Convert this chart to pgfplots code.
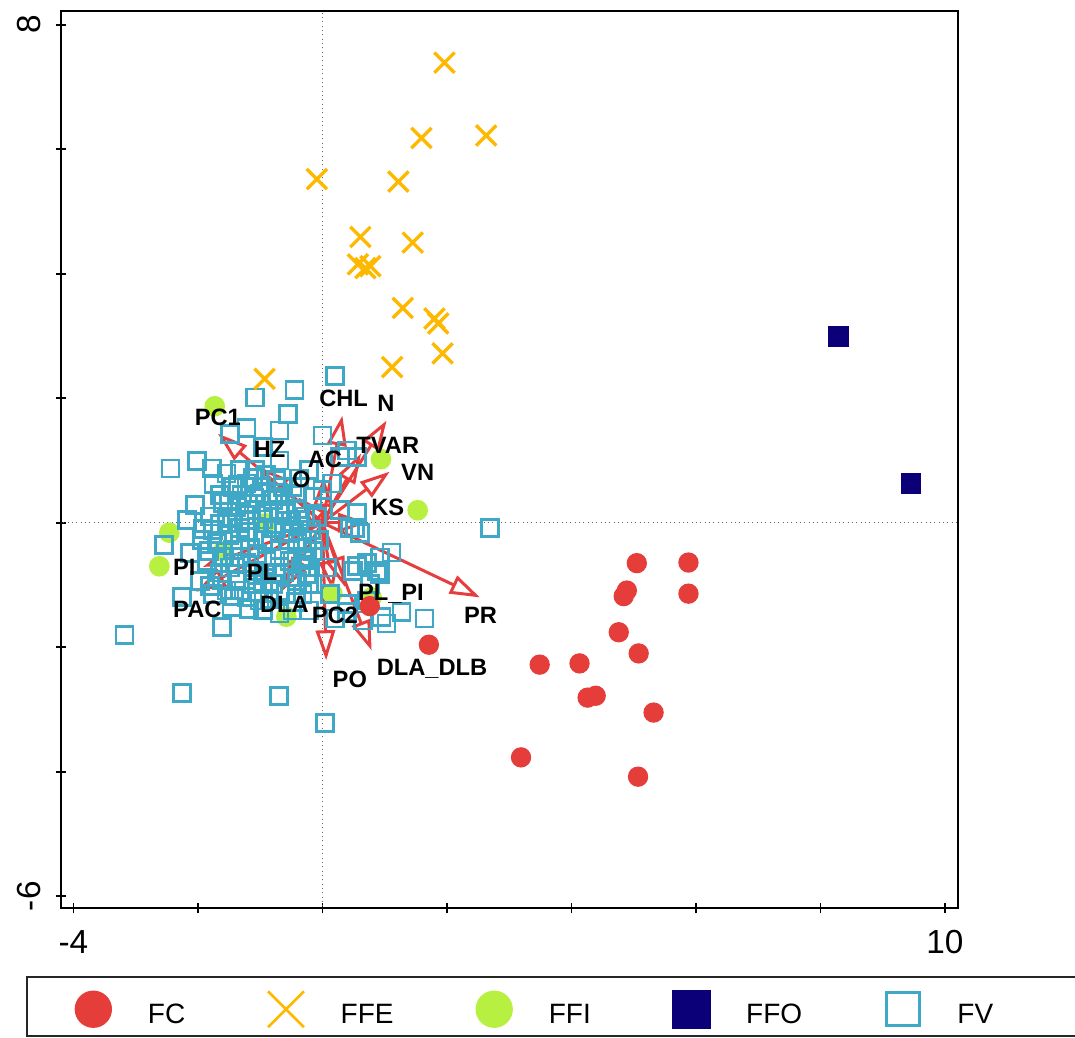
\documentclass[border=0pt]{standalone}
\usepackage{fontspec}
\setmainfont{Liberation Sans}
\usepackage{pgfplots}
\pgfplotsset{compat=1.18}
\usetikzlibrary{arrows.meta}
\definecolor{cFC}{RGB}{229,62,58}
\definecolor{cFFE}{RGB}{255,184,0}
\definecolor{cFFI}{RGB}{184,240,66}
\definecolor{cFFO}{RGB}{12,0,120}
\definecolor{cFV}{RGB}{62,168,198}
\definecolor{cArr}{RGB}{230,62,62}

\begin{document}
\begin{tikzpicture}
\begin{axis}[
  scale only axis, width=269.1pt, height=269.1pt,
  xmin=-4.2, xmax=10.21, ymin=-6.19, ymax=8.22,
  axis line style={black, line width=0.5pt},
  tick pos=left, tick align=center, major tick length=3.2pt,
  tick style={black, line width=0.5pt},
  xtick={-4,-2,...,10}, xticklabels={-4,,,,,,,10},
  ytick={-6,-4,...,8}, yticklabels={-6,,,,,,,8},
  ticklabel style={font=\fontsize{10}{12}\selectfont, inner sep=0pt},
  xticklabel style={anchor=north},
  yticklabel style={rotate=90, anchor=south},
  xticklabel shift=5pt, yticklabel shift=4.3pt,
  legend columns=5, legend cell align=left,
  legend image code/.code={\path (-6pt,-3pt) (6pt,9pt); \draw[#1] plot coordinates {(0pt,2pt)};},
  legend style={at={(axis description cs:0,0)}, anchor=west, xshift=3.5pt, yshift=-29.6pt,
    draw=none, fill=none, inner sep=0pt, outer sep=0pt,
    font=\fontsize{8.4}{10}\selectfont, nodes={inner sep=0pt},
    /tikz/every odd column/.append style={column sep=10.2pt},
    /tikz/every even column/.append style={column sep=24pt}},
]
\coordinate (SW) at (rel axis cs:0,0);
\coordinate (NE) at (rel axis cs:1,1);

% zero reference lines
\addplot[forget plot, densely dotted, black!60, line width=0.3pt] coordinates {(0,-7) (0,9)};
\addplot[forget plot, densely dotted, black!60, line width=0.3pt] coordinates {(-5,0) (11,0)};

% FFI
\addplot[forget plot, only marks, mark=*, mark size=2.9pt, mark options={draw=cFFI, fill=cFFI}] table {
x y
-1.73 1.87
0.94 1.02
1.53 0.20
-2.46 -0.16
-2.62 -0.70
-1.60 -0.46
-0.91 -0.01
-0.58 -1.51
0.16 -1.14
0.79 -1.20
};

% FV
\addplot[forget plot, only marks, mark=square, mark size=2.55pt, mark options={draw=cFV, line width=0.85pt}] table {
x y
0.20 2.35
-0.45 2.13
-1.09 2.01
-0.56 1.74
-1.22 1.52
-0.69 1.48
-1.49 1.43
0.00 1.40
0.40 1.16
0.55 1.05
-2.44 0.87
-2.02 0.99
-1.78 0.87
-2.05 0.29
-2.54 -0.36
-3.18 -1.81
-2.26 -1.20
-1.62 -1.68
-2.26 -2.74
-0.70 -2.78
0.04 -3.22
1.64 -1.54
1.27 -1.44
0.95 -1.52
2.69 -0.08
1.11 -0.48
0.92 -0.56
0.55 -0.69
0.87 -0.77
0.71 -1.25
0.52 -0.08
0.28 1.05
0.16 0.63
0.00 0.52
-0.41 0.47
0.28 0.20
0.55 0.15
-0.74 -0.08
-0.53 -0.17
-0.32 -0.40
-0.69 -0.56
-0.48 -0.61
0.44 -0.08
0.60 -0.17
0.49 -0.77
0.71 -0.65
0.92 -0.82
0.76 -0.98
-0.25 -0.82
-0.74 -0.82
-0.16 -0.98
0.12 -1.14
0.39 -1.30
-0.69 -1.46
-0.48 -1.41
-0.21 -1.41
1.03 -1.62
0.65 -1.57
-1.46 -1.36
0.20 -1.54
0.39 -1.44
-1.76 -1.14
-1.33 -1.09
-1.44 0.57
-1.22 0.63
-1.01 0.47
-0.80 0.36
-0.64 0.57
-1.38 0.25
-1.60 0.31
-1.06 0.20
-0.58 0.15
-0.37 0.04
-0.16 0.41
-0.09 0.09
-1.76 -0.12
-1.54 -0.01
-1.33 -0.08
-1.17 0.04
-0.80 -0.08
-0.53 -0.28
-0.25 -0.28
-1.93 -0.28
-1.70 -0.33
-1.44 -0.44
-1.17 -0.40
-0.96 -0.28
-0.69 -0.44
-1.86 -0.61
-1.49 -0.72
-1.22 -0.65
-0.90 -0.61
-0.53 -0.61
-0.25 -0.56
-1.38 -0.93
-1.12 -0.98
-0.80 -0.98
-0.41 -0.93
-0.21 -0.98
-1.54 -1.09
-1.22 -1.20
-0.58 -1.14
-0.32 -1.14
-1.97 -0.93
-2.13 -0.49
0.07 -0.72
-1.54 0.79
-1.33 0.84
-0.96 1.21
-0.69 1.00
-2.18 0.04
-0.91 0.76
-0.37 0.71
-1.09 0.84
-0.21 0.84
-0.05 -0.28
-1.01 -1.25
-1.80 0.10
-1.65 0.45
-1.50 0.35
-1.35 0.60
-1.20 0.30
-1.12 0.72
-0.98 0.58
-0.88 0.15
-0.72 0.48
-0.60 0.30
-0.48 0.58
-0.40 0.22
-0.28 0.10
-0.50 0.02
-0.96 0.05
-1.25 0.12
-1.45 0.10
-1.65 -0.02
-1.82 -0.45
-1.62 -0.55
-1.32 -0.28
-1.05 -0.50
-0.82 -0.30
-0.62 -0.15
-0.40 -0.32
-0.15 -0.45
-0.35 -0.72
-0.62 -0.80
-0.92 -0.80
-1.10 -0.78
-1.30 -0.55
-1.65 -0.80
-1.80 -1.02
-1.42 -1.18
-1.05 -1.12
-0.85 -1.22
-0.68 -1.10
-0.42 -1.28
-1.18 -1.38
-0.95 -1.40
-1.62 -0.92
-0.18 -0.12
-0.75 0.68
-1.30 0.45
-1.75 0.62
-1.92 -0.10
-1.50 -0.20
-1.10 0.40
-0.70 0.20
-1.40 -0.65
-0.95 -0.95
-0.30 -0.60
-1.20 -0.15
};

% FC
\addplot[forget plot, only marks, mark=*, mark size=2.85pt, mark options={draw=cFC, fill=cFC}] table {
x y
5.05 -0.65
5.88 -0.64
5.88 -1.14
4.89 -1.09
4.84 -1.18
4.76 -1.76
5.08 -2.10
4.13 -2.26
3.49 -2.28
4.26 -2.81
4.39 -2.78
5.32 -3.05
3.19 -3.77
5.07 -4.08
1.71 -1.96
0.76 -1.34
};

% FFE
\addplot[forget plot, only marks, mark=x, mark size=4.3pt, mark options={draw=cFFE, line width=1pt}] table {
x y
1.96 7.39
1.59 6.18
2.63 6.22
-0.09 5.52
1.22 5.48
0.61 4.59
1.45 4.50
0.57 4.15
0.69 4.09
0.77 4.12
1.29 3.45
1.80 3.28
1.86 3.20
1.93 2.72
1.12 2.50
-0.93 2.31
};

% FFO
\addplot[forget plot, only marks, mark=square*, mark size=2.85pt, mark options={draw=cFFO, fill=cFFO}] table {
x y
8.29 2.99
9.45 0.63
};

% variable vectors
\addplot[forget plot, cArr, line width=0.9pt, quiver={u=\thisrow{u}, v=\thisrow{v}},
  -{Triangle[open, length=9pt, width=5.8pt]}] table {
x y u v
0 0 0.32 1.72
0 0 1.03 1.64
0 0 0.62 1.11
0 0 0.02 0.74
0 0 1.08 0.82
0 0 0.73 0.00
0 0 -0.39 0.41
0 0 -1.00 0.89
0 0 -1.68 1.43
0 0 -1.92 -0.71
0 0 -2.03 -1.11
0 0 -0.60 -1.04
0 0 -0.64 -1.09
0 0 0.17 -1.09
0 0 0.36 -1.03
0 0 0.06 -2.21
0 0 0.79 -2.05
0 0 2.53 -1.20
};

% vector labels
\addplot[forget plot, draw=none, mark=none, nodes near coords, point meta=explicit symbolic,
  every node near coord/.style={anchor=base, text=black, inner sep=0pt,
    font=\fontsize{7.1}{8}\selectfont\bfseries}] table[meta=lab] {
x y lab
-1.68 1.56 PC1
-0.85 1.05 HZ
0.04 0.89 AC
-0.34 0.57 O
0.34 1.86 CHL
1.02 1.78 N
1.05 1.11 TVAR
1.53 0.68 VN
1.05 0.12 KS
1.10 -1.25 PL\_PI
2.54 -1.62 PR
0.44 -2.64 PO
1.76 -2.45 DLA\_DLB
0.20 -1.62 PC2
-0.61 -1.44 DLA
-0.97 -0.93 PL
-2.22 -0.85 PI
-2.01 -1.52 PAC
};

\addlegendimage{only marks, mark=*, mark size=5.4pt, mark options={draw=cFC, fill=cFC}}
\addlegendentry{FC}
\addlegendimage{only marks, mark=x, mark size=7.6pt, mark options={draw=cFFE, line width=0.8pt}}
\addlegendentry{FFE}
\addlegendimage{only marks, mark=*, mark size=5.4pt, mark options={draw=cFFI, fill=cFFI}}
\addlegendentry{FFI}
\addlegendimage{only marks, mark=square*, mark size=5.6pt, mark options={draw=cFFO, fill=cFFO}}
\addlegendentry{FFO}
\addlegendimage{only marks, mark=square, mark size=5pt, mark options={draw=cFV, line width=0.85pt}}
\addlegendentry{FV}
\end{axis}
\draw[line width=0.7pt, black!85] ([xshift=-10.2pt,yshift=-20.7pt]SW) rectangle ([xshift=120pt,yshift=-38.4pt]SW -| NE);
\pgfresetboundingbox
\path[use as bounding box] ([xshift=-18.3pt,yshift=-38.7pt]SW) rectangle ([xshift=35.1pt,yshift=3.3pt]NE);
\end{tikzpicture}
\end{document}
